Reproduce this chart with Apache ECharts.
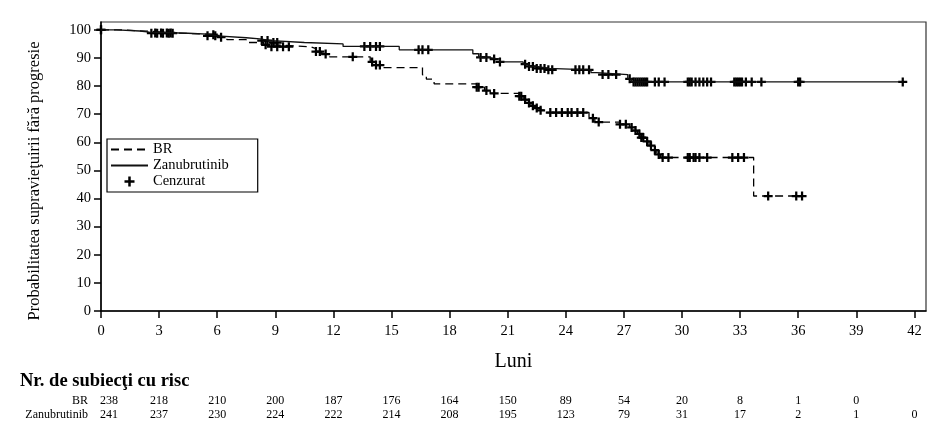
<!DOCTYPE html>
<html>
<head>
<meta charset="utf-8">
<script src="https://cdn.jsdelivr.net/npm/echarts@6/dist/echarts.min.js"></script>
<style>
  html, body { margin: 0; padding: 0; background: #fff; }
  #chart { width: 944px; height: 441px; }
</style>
</head>
<body>
<div id="chart"></div>
<script>
const xTicks = [0, 3, 6, 9, 12, 15, 18, 21, 24, 27, 30, 33, 36, 39, 42];
const yTicks = [0, 10, 20, 30, 40, 50, 60, 70, 80, 90, 100];

// KM steps [month, survival %]
const zanCurve = [
  [0, 100], [0.8, 99.6], [2, 99.2], [2.5, 98.8], [4.5, 98.5], [5.5, 97.9], [6, 97.2],
  [7.5, 96.8], [8.2, 96.2], [8.8, 95.5], [10.5, 95], [12.5, 94.1], [15.4, 92.9],
  [19.2, 91.5], [19.5, 90.2], [20, 89.6], [20.6, 88.6], [21.8, 87.8], [22.1, 87],
  [22.5, 86.3], [23.1, 85.8], [25.3, 84.8], [25.6, 84.1], [27.2, 82.6], [27.4, 81.5],
  [41.4, 81.5]
];
const brCurve = [
  [0, 100], [1, 99.5], [2.5, 98.9], [3.8, 98.3], [6, 97.4], [6.5, 96.5], [7.5, 95.5],
  [8.4, 94.7], [8.8, 94], [10.8, 93.3], [11.1, 92.3], [11.4, 91.4], [11.8, 90.4],
  [13.9, 88.6], [14.2, 87.5], [14.5, 86.6], [16.6, 84], [16.8, 82.5], [17.2, 80.8],
  [19.4, 79.6], [19.8, 78.4], [20.1, 77.4], [21.6, 76.4], [21.8, 75.2], [22, 74],
  [22.2, 73], [22.4, 72.2], [22.7, 71.4], [23, 70.6], [25.2, 68.6], [25.5, 67.2],
  [26.8, 66.4], [27.3, 65.3], [27.5, 64.2], [27.7, 63], [27.9, 61.7], [28.1, 60.3],
  [28.3, 58.8], [28.5, 57.2], [28.7, 55.7], [28.9, 54.6], [33.7, 40.9], [36.3, 40.9]
];

// censored times (months)
const zanCensor = [
  0, 2.6, 2.9, 3.2, 3.5, 3.7, 5.5, 5.9, 8.3, 8.6, 8.9, 9.1, 13.6, 13.9, 14.2, 14.4,
  16.4, 16.6, 16.9, 19.6, 19.9, 20.3, 20.6, 21.9, 22.1, 22.3, 22.5, 22.7, 22.9, 23.1, 23.3,
  24.5, 24.7, 24.9, 25.2, 25.9, 26.2, 26.6, 27.3, 27.5, 27.6, 27.7, 27.8, 27.9, 28.0,
  28.1, 28.2, 28.6, 28.8, 29.1, 30.3, 30.4, 30.5, 30.7, 30.9, 31.1, 31.3, 31.5,
  32.7, 32.8, 32.9, 33.0, 33.1, 33.3, 33.6, 34.1, 36.0, 36.1, 41.4
];
const brCensor = [
  0, 2.8, 3.1, 3.4, 3.6, 5.8, 6.2, 8.5, 8.8, 9.1, 9.4, 9.7, 11.1, 11.3, 11.6, 13.0,
  14.0, 14.2, 14.4, 19.4, 19.5, 19.9, 20.3, 21.6, 21.7, 21.9, 22.1, 22.3, 22.5, 22.7,
  23.2, 23.5, 23.8, 24.1, 24.3, 24.6, 24.9, 25.4, 25.7, 26.8, 27.1, 27.4, 27.6, 27.8,
  27.9, 28.0, 28.2, 28.4, 28.6, 28.8, 29.0, 29.3, 30.3, 30.4, 30.6, 30.7, 30.9, 31.3,
  32.6, 32.9, 33.2, 34.45, 35.9, 36.2
];

// number at risk
const riskTimes = xTicks;
const riskBR = [238, 218, 210, 200, 187, 176, 164, 150, 89, 54, 20, 8, 1, 0];
const riskZan = [241, 237, 230, 224, 222, 214, 208, 195, 123, 79, 31, 17, 2, 1, 0];

const FONT = '"Liberation Serif", "Times New Roman", serif';
const plus = 'path://M3,0H5V3H8V5H5V8H3V5H0V3H3Z';

// survival value at time t (for placing censor marks on the curve)
function survAt(curve, t) {
  let s = curve[0][1];
  for (const p of curve) { if (p[0] <= t) s = p[1]; }
  return s;
}

const chart = echarts.init(document.getElementById('chart'));

const option = {
  animation: false,
  color: ['#000'],
  grid: {
    left: 101, top: 22, right: 18, bottom: 130,
    show: true, borderColor: '#333', borderWidth: 1.2
  },
  legend: {
    orient: 'vertical',
    left: 107, top: 139,
    itemWidth: 37, itemHeight: 10, itemGap: 1,
    padding: [3, 29, 3, 3],
    borderColor: '#000', borderWidth: 1.2,
    backgroundColor: '#fff',
    textStyle: { fontFamily: FONT, fontSize: 14.5, color: '#000' },
    data: [
      { name: 'BR', itemStyle: { opacity: 0 } },
      { name: 'Zanubrutinib', itemStyle: { opacity: 0 } },
      { name: 'Cenzurat' }
    ]
  },
  xAxis: {
    type: 'value', min: 0, max: 42.6, interval: 3,
    name: 'Luni', nameLocation: 'middle', nameGap: 41,
    nameTextStyle: { fontFamily: FONT, fontSize: 20, color: '#000' },
    axisLine: { lineStyle: { color: '#000', width: 1.5 } },
    axisTick: { length: 7, lineStyle: { color: '#000', width: 1.5 }, customValues: xTicks },
    axisLabel: { fontFamily: FONT, fontSize: 14.5, color: '#000', margin: 13, customValues: xTicks },
    splitLine: { show: false }
  },
  yAxis: {
    type: 'value', min: 0, max: 102.8, interval: 10,
    axisLine: { show: true, lineStyle: { color: '#000', width: 1.5 } },
    axisTick: { show: true, length: 7, lineStyle: { color: '#000', width: 1.5 }, customValues: yTicks },
    axisLabel: { fontFamily: FONT, fontSize: 14.5, color: '#000', margin: 10, customValues: yTicks },
    splitLine: { show: false }
  },
  series: [
    {
      name: 'BR', type: 'line', step: 'end', data: brCurve,
      symbol: 'none', showSymbol: false,
      lineStyle: { color: '#000', width: 1.3, type: [8, 5] }
    },
    {
      name: 'Zanubrutinib', type: 'line', step: 'end', data: zanCurve,
      symbol: 'none', showSymbol: false,
      lineStyle: { color: '#111', width: 1.3 }
    },
    {
      name: 'Cenzurat', type: 'scatter', symbol: plus, symbolSize: 9,
      itemStyle: { color: '#000', opacity: 1 },
      data: brCensor.map(t => [t, survAt(brCurve, t)])
    },
    {
      name: 'Cenzurat', type: 'scatter', symbol: plus, symbolSize: 9,
      itemStyle: { color: '#000', opacity: 1 },
      data: zanCensor.map(t => [t, survAt(zanCurve, t)])
    }
  ]
};

chart.setOption(option);

// y-axis title, risk table
const px = t => chart.convertToPixel({ xAxisIndex: 0 }, t);
const graphics = [
  {
    type: 'text', x: 35, y: 181, rotation: Math.PI / 2,
    style: {
      text: 'Probabilitatea supravieţuirii fără progresie',
      font: '16.5px ' + FONT, fill: '#000',
      textAlign: 'center', textVerticalAlign: 'middle'
    }
  },
  {
    type: 'text', x: 20, y: 381,
    style: {
      text: 'Nr. de subiecţi cu risc', font: 'bold 18.5px ' + FONT, fill: '#000',
      textAlign: 'left', textVerticalAlign: 'middle'
    }
  },
  {
    type: 'text', x: 88, y: 401,
    style: { text: 'BR', font: '12px ' + FONT, fill: '#000', textAlign: 'right', textVerticalAlign: 'middle' }
  },
  {
    type: 'text', x: 88, y: 415,
    style: { text: 'Zanubrutinib', font: '12px ' + FONT, fill: '#000', textAlign: 'right', textVerticalAlign: 'middle' }
  }
];
[[riskBR, 401], [riskZan, 415]].forEach(([vals, y]) => {
  vals.forEach((v, i) => {
    const x = px(riskTimes[i]) + (i === 0 ? 8 : 0);
    graphics.push({
      type: 'text', x: x, y: y,
      style: { text: String(v), font: '12px ' + FONT, fill: '#000', textAlign: 'center', textVerticalAlign: 'middle' }
    });
  });
});
chart.setOption({ graphic: graphics });
</script>
</body>
</html>
